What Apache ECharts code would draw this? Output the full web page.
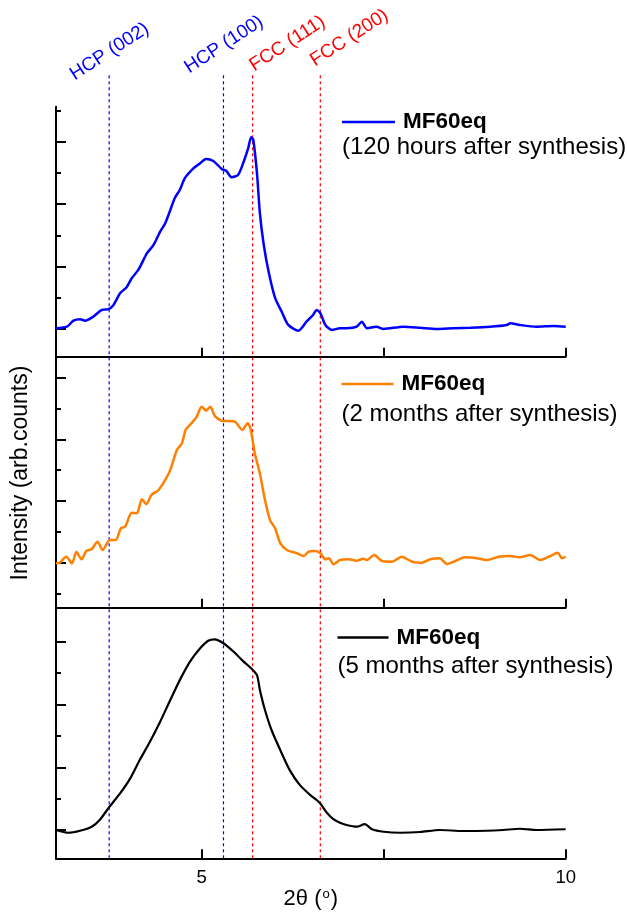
<!DOCTYPE html>
<html><head><meta charset="utf-8">
<script src="https://cdn.jsdelivr.net/npm/echarts@6/dist/echarts.min.js"></script>
<style>html,body{margin:0;padding:0;background:#fff}#c{width:627px;height:913px}</style>
</head><body><div id="c"></div>
<script>
const FONT = 'Liberation Sans, Arial, Helvetica, sans-serif';

// ---- data (2θ in degrees, intensity in arbitrary counts) ----
const blueX = [3.00,3.15,3.24,3.33,3.40,3.51,3.63,3.72,3.79,3.88,3.97,4.04,4.13,4.25,4.34,4.43,4.50,4.57,4.63,4.70,4.77,4.89,4.98,5.06,5.16,5.28,5.34,5.41,5.50,5.57,5.64,5.68,5.71,5.76,5.80,5.85,5.92,6.01,6.10,6.19,6.33,6.44,6.53,6.58,6.63,6.70,6.79,6.90,6.99,7.13,7.20,7.27,7.40,7.50,7.77,8.00,8.23,8.46,8.69,8.96,9.19,9.24,9.37,9.60,9.83,10.0];
const blueY = [11.4,12.0,14.4,15.0,14.4,16.0,18.7,19.0,20.7,25.4,27.8,31.4,34.7,41.4,44.7,50.0,53.4,58.7,63.4,66.7,71.4,75.4,77.4,79.1,78.3,75.0,74.3,71.8,72.7,77.4,83.4,87.8,86.7,73.4,57.4,45.4,34.0,23.4,18.0,12.7,10.4,14.0,16.7,18.7,17.4,12.7,10.7,11.4,11.4,12.0,14.0,11.4,12.0,11.1,12.0,11.6,11.1,11.4,11.6,12.0,12.7,13.4,12.7,12.0,12.3,12.0];

const orangeX = [3.00,3.05,3.14,3.22,3.28,3.35,3.42,3.49,3.57,3.64,3.74,3.82,3.89,3.95,4.04,4.11,4.18,4.24,4.31,4.41,4.50,4.57,4.66,4.73,4.78,4.86,4.93,5.00,5.06,5.12,5.18,5.29,5.37,5.46,5.56,5.63,5.67,5.73,5.80,5.87,5.94,6.01,6.08,6.17,6.31,6.40,6.47,6.56,6.63,6.70,6.75,6.81,6.90,7.02,7.13,7.22,7.27,7.37,7.47,7.61,7.75,7.89,8.02,8.14,8.27,8.37,8.46,8.62,8.78,8.92,9.08,9.24,9.37,9.51,9.65,9.79,9.89,9.95,10.0];
const orangeY = [17.7,17.9,20.3,17.7,22.3,19.3,22.7,23.3,26.3,23.0,27.0,27.0,31.6,32.3,37.8,37.6,43.2,41.3,44.9,46.9,50.9,54.9,62.8,65.5,70.8,73.5,75.9,80.1,78.5,80.1,76.4,74.4,74.4,74.1,70.8,73.5,71.5,61.5,53.5,42.9,34.9,31.6,25.7,23.0,21.7,20.6,22.3,22.6,21.7,19.3,19.7,17.3,19.0,19.3,18.7,19.5,19.0,21.0,18.7,18.3,20.3,18.3,17.9,19.3,19.7,17.4,18.3,20.1,19.7,19.0,20.3,20.6,20.1,21.0,19.0,20.6,21.9,19.7,20.3];

const blackX = [3.00,3.17,3.33,3.49,3.60,3.73,3.88,4.02,4.15,4.29,4.43,4.57,4.70,4.84,4.98,5.09,5.18,5.30,5.44,5.57,5.68,5.76,5.80,5.87,5.96,6.08,6.21,6.35,6.49,6.62,6.72,6.81,6.90,6.99,7.13,7.24,7.34,7.50,7.73,8.00,8.27,8.59,8.92,9.14,9.37,9.60,10.0];
const blackY = [11.3,10.2,11.0,12.6,15.3,20.4,25.9,31.9,39.2,46.5,54.5,63.2,71.1,78.5,83.8,86.8,87.4,85.8,82.4,78.7,75.8,73.1,67.2,59.2,51.2,43.2,35.2,29.2,25.3,22.2,18.2,15.6,14.2,13.3,12.6,13.6,11.6,10.6,10.2,10.5,11.3,10.9,11.0,11.3,11.8,11.3,11.6];

const seriesNames = ['MF60eq', 'MF60eq', 'MF60eq'];
const seriesNotes = ['(120 hours after synthesis)', '(2 months after synthesis)', '(5 months after synthesis)'];

const peakNames = ['HCP (002)', 'HCP (100)', 'FCC (111)', 'FCC (200)'];
const peakPositions = [3.73, 5.30, 5.70, 6.63];

const xTicks = [5, 7.5, 10];
const xTickLabels = [5, 10];
const yMajorTicks = [[11, 36, 61, 86], [18, 42.5, 67, 91.5], [11.3, 36.2, 61.3, 86.4]];
const yMinorTicks = [[23.5, 48.5, 73.5, 98.5], [5.7, 30.3, 55, 79.4], [23.6, 48.9, 73.9]];

// ---- layout / style ----
const colors = ['#0000ff', '#ff7f00', '#000000'];
const widths = [2.5, 2.5, 2.2];
const panels = [{top: 106.7, height: 250}, {top: 356.7, height: 251}, {top: 607.7, height: 250.6}];
const legendLayout = [{left: 342, top: 110.5, w: 53, note: 135.5}, {left: 341.5, top: 372.5, w: 52, note: 402.5}, {left: 337.5, top: 626, w: 51, note: 654.7}];
const peakColors = ['#0000ff', '#0000ff', '#ff0000', '#ff0000'];
const peakLabelOffsets = [[-32, 10], [-32, 3], [4, 1], [-3, -4]];
const GL = 56, GR = 61.3;

const chart = echarts.init(document.getElementById('c'), null, {renderer: 'canvas'});

const grids = panels.map(p => ({left: GL, right: GR, top: p.top, height: p.height}));
grids.push({left: GL, right: GR, top: 74, bottom: 913 - 858.3});

const xAxes = panels.map((p, i) => ({
  gridIndex: i, type: 'value', min: 3, max: 10,
  axisLine: {show: true, onZero: false, lineStyle: {color: '#000', width: 2}},
  axisTick: {show: true, inside: true, length: 9, customValues: xTicks, lineStyle: {color: '#000', width: 2}},
  axisLabel: {show: i === 2, customValues: xTickLabels, color: '#000', fontSize: 18.5, fontFamily: FONT, margin: 10},
  splitLine: {show: false},
  name: i === 2 ? '2θ ({s|o})' : '',
  nameLocation: 'middle', nameGap: 29,
  nameTextStyle: {color: '#000', fontSize: 22, fontFamily: FONT,
    rich: {s: {fontSize: 13, fontFamily: FONT, color: '#000', verticalAlign: 'top', padding: [0, 1, 0, 1]}}}
}));
xAxes.push({gridIndex: 3, type: 'value', min: 3, max: 10, show: false});

const yAxes = [];
panels.forEach((p, i) => {
  yAxes.push({gridIndex: i, type: 'value', min: 0, max: 100, position: 'left',
    axisLine: {show: true, onZero: false, lineStyle: {color: '#000', width: 2}},
    axisTick: {show: true, inside: true, length: 10, customValues: yMajorTicks[i], lineStyle: {color: '#000', width: 2}},
    axisLabel: {show: false}, splitLine: {show: false}});
  yAxes.push({gridIndex: i, type: 'value', min: 0, max: 100, position: 'left', offset: 0,
    axisLine: {show: false},
    axisTick: {show: true, inside: true, length: 5, customValues: yMinorTicks[i], lineStyle: {color: '#000', width: 2}},
    axisLabel: {show: false}, splitLine: {show: false}});
});
yAxes.push({gridIndex: 3, type: 'value', min: 0, max: 1, show: false});

const zip = (xs, ys) => xs.map((x, k) => [x, ys[k]]);
const curveData = [zip(blueX, blueY), zip(orangeX, orangeY), zip(blackX, blackY)];
const seriesIds = ['s0', 's1', 's2'];

const series = [];
peakPositions.forEach((x, k) => {
  series.push({type: 'line', xAxisIndex: 3, yAxisIndex: 6, data: [[x, 0], [x, 1]],
    symbol: 'none', silent: true, z: 1, color: peakColors[k],
    itemStyle: {color: peakColors[k]},
    lineStyle: {color: peakColors[k], width: 1.2, type: [3, 3]}});
});
curveData.forEach((d, i) => {
  series.push({type: 'line', name: seriesIds[i], xAxisIndex: i, yAxisIndex: i * 2, data: d,
    symbol: 'none', showSymbol: false, smooth: 0.25, z: 3, color: colors[i],
    lineStyle: {color: colors[i], width: widths[i]}, itemStyle: {color: colors[i]}});
});

const legends = legendLayout.map((L, i) => ({
  data: [seriesIds[i]], left: L.left, top: L.top, padding: 0, itemWidth: L.w, itemHeight: 2.5,
  icon: 'rect', selectedMode: false, formatter: () => seriesNames[i],
  textStyle: {fontSize: 22.5, fontWeight: 'bold', color: '#000', fontFamily: FONT, padding: [0, 0, 0, 3]}
}));
const titles = legendLayout.map((L, i) => ({
  text: seriesNotes[i], left: L.left, top: L.note, padding: 0,
  textStyle: {fontSize: 24, fontWeight: 'normal', color: '#000', fontFamily: FONT}
}));

chart.setOption({
  animation: false,
  backgroundColor: '#fff',
  grid: grids, xAxis: xAxes, yAxis: yAxes, series: series,
  legend: legends, title: titles
});

const graphics = [{
  type: 'text', x: 21, y: 473, rotation: Math.PI / 2,
  style: {text: 'Intensity (arb.counts)', fontSize: 23, fontFamily: FONT, fill: '#000', align: 'center', verticalAlign: 'middle'}
}];
peakPositions.forEach((x, k) => {
  const pt = chart.convertToPixel({xAxisIndex: 3, yAxisIndex: 6}, [x, 1]);
  graphics.push({type: 'text', x: pt[0] + peakLabelOffsets[k][0], y: pt[1] + peakLabelOffsets[k][1],
    rotation: 33 * Math.PI / 180,
    style: {text: peakNames[k], fontSize: 19, fontFamily: FONT, fill: peakColors[k], align: 'left', verticalAlign: 'bottom'}});
});
chart.setOption({graphic: graphics});
</script></body></html>
